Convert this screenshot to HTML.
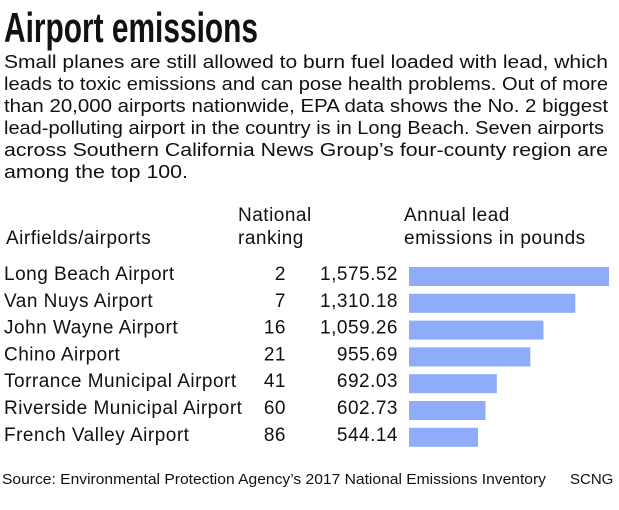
<!DOCTYPE html>
<html><head><meta charset="utf-8"><style>
body{margin:0;background:#fff}
svg{display:block;font-family:"Liberation Sans",sans-serif;fill:#111}
</style></head><body>
<svg width="619" height="510" viewBox="0 0 619 510">
<text x="4" y="42" font-size="42" font-weight="bold" textLength="254" lengthAdjust="spacingAndGlyphs">Airport emissions</text>
<g font-size="18">
<text x="4" y="68" textLength="604" lengthAdjust="spacingAndGlyphs">Small planes are still allowed to burn fuel loaded with lead, which</text>
<text x="4" y="90" textLength="604" lengthAdjust="spacingAndGlyphs">leads to toxic emissions and can pose health problems. Out of more</text>
<text x="4" y="112" textLength="604" lengthAdjust="spacingAndGlyphs">than 20,000 airports nationwide, EPA data shows the No. 2 biggest</text>
<text x="4" y="134" textLength="600" lengthAdjust="spacingAndGlyphs">lead-polluting airport in the country is in Long Beach. Seven airports</text>
<text x="4" y="156" textLength="604" lengthAdjust="spacingAndGlyphs">across Southern California News Group’s four-county region are</text>
<text x="4" y="178" textLength="184" lengthAdjust="spacingAndGlyphs">among the top 100.</text>
</g>
<g font-size="19" letter-spacing="0.5">
<text x="6" y="244">Airfields/airports</text>
<text x="238" y="221">National</text>
<text x="238" y="244">ranking</text>
<text x="404" y="221">Annual lead</text>
<text x="404" y="244">emissions in pounds</text>
</g>
<g id="rows" font-size="19" letter-spacing="0.5"></g>
<text x="2" y="484" font-size="15" textLength="544" lengthAdjust="spacingAndGlyphs">Source: Environmental Protection Agency’s 2017 National Emissions Inventory</text>
<text x="570" y="484" font-size="15">SCNG</text>
</svg>
<script>
const airports=["Long Beach Airport","Van Nuys Airport","John Wayne Airport","Chino Airport","Torrance Municipal Airport","Riverside Municipal Airport","French Valley Airport"];
const ranks=[2,7,16,21,41,60,86];
const emissions=[1575.52,1310.18,1059.26,955.69,692.03,602.73,544.14];
const g=document.getElementById('rows');
const NS='http://www.w3.org/2000/svg';
const x0=409, maxW=200, maxV=Math.max(...emissions);
const xs=v=>v/maxV*maxW;
const rowY=i=>267+i*26.8;
function t(x,y,s,anchor){const e=document.createElementNS(NS,'text');e.setAttribute('x',x);e.setAttribute('y',y);if(anchor)e.setAttribute('text-anchor',anchor);e.textContent=s;g.appendChild(e);return e;}
emissions.forEach((v,i)=>{
 const y=rowY(i);
 const a=t(4,y+13,airports[i]);
 
 
 const r=t(286,y+13,String(ranks[i]),'end');
 
 
 const vl=t(398,y+13,v.toLocaleString('en-US',{minimumFractionDigits:2}),'end');
 
 
 const b=document.createElementNS(NS,'rect');
 b.setAttribute('x',x0);b.setAttribute('y',y);b.setAttribute('width',xs(v));b.setAttribute('height',19);b.setAttribute('fill','#8eacf8');
 
 
 g.appendChild(b);
});
</script>
</body></html>
